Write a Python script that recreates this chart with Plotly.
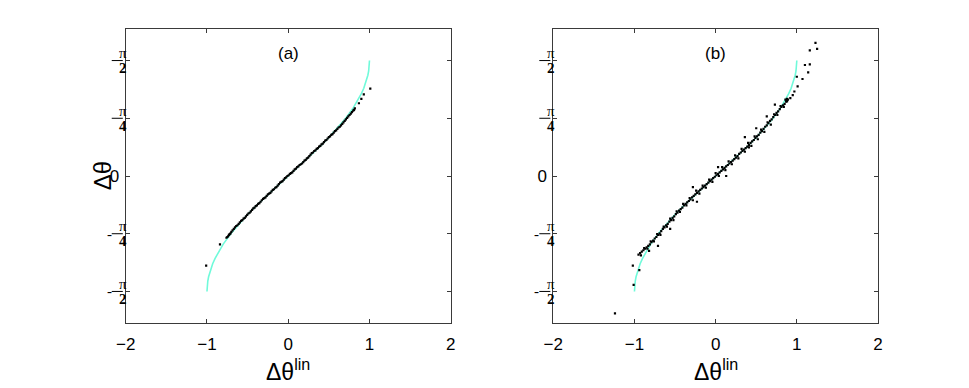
import math
import plotly.graph_objects as go

# theory curve (cyan)
curve_x = [-1.0, -0.999, -0.995, -0.99, -0.98, -0.96, -0.93, -0.9, -0.85, -0.8, -0.7, -0.6, -0.5,
           -0.4, -0.3, -0.2, -0.1, 0.0, 0.1, 0.2, 0.3, 0.4, 0.5, 0.6, 0.7, 0.8, 0.85, 0.9,
           0.93, 0.96, 0.98, 0.99, 0.995, 0.999, 1.0]
curve_y = [-1.571, -1.526, -1.471, -1.429, -1.371, -1.287, -1.194, -1.120, -1.016, -0.927, -0.775,
           -0.644, -0.524, -0.412, -0.305, -0.201, -0.100, 0.0, 0.100, 0.201, 0.305, 0.412, 0.524,
           0.644, 0.775, 0.927, 1.016, 1.120, 1.194, 1.287, 1.371, 1.429, 1.471, 1.526, 1.571]

# panel (a) simulation points
a_x = [-1.01, -0.84, -0.76, -0.75, -0.74, -0.73, -0.72, -0.71, -0.70, -0.685, -0.67, -0.655, -0.64,
       -0.625, -0.61, -0.595, -0.58, -0.565, -0.55, -0.535, -0.52, -0.505, -0.49, -0.475, -0.46,
       -0.445, -0.43, -0.415, -0.40, -0.385, -0.37, -0.355, -0.34, -0.325, -0.31, -0.295, -0.28,
       -0.265, -0.25, -0.235, -0.22, -0.205, -0.19, -0.175, -0.16, -0.145, -0.13, -0.115, -0.10,
       -0.085, -0.07, -0.055, -0.04, -0.025, -0.01, 0.005, 0.02, 0.035, 0.05, 0.065, 0.08, 0.095,
       0.11, 0.125, 0.14, 0.155, 0.17, 0.185, 0.20, 0.215, 0.23, 0.245, 0.26, 0.275, 0.29, 0.305,
       0.32, 0.335, 0.35, 0.365, 0.38, 0.395, 0.41, 0.425, 0.44, 0.455, 0.47, 0.485, 0.50, 0.515,
       0.53, 0.545, 0.56, 0.575, 0.59, 0.605, 0.62, 0.635, 0.65, 0.665, 0.68, 0.695, 0.71, 0.725,
       0.74, 0.755, 0.77, 0.785, 0.80, 0.81, 0.82, 0.87, 0.90, 0.93, 1.01]
a_y = [-1.22, -0.93, -0.84, -0.83, -0.82, -0.80, -0.79, -0.78, -0.76, -0.74, -0.72, -0.70, -0.68,
       -0.67, -0.65, -0.63, -0.61, -0.60, -0.58, -0.57, -0.55, -0.53, -0.51, -0.50, -0.48,
       -0.46, -0.44, -0.43, -0.41, -0.40, -0.38, -0.37, -0.35, -0.33, -0.31, -0.30, -0.29,
       -0.27, -0.25, -0.24, -0.23, -0.21, -0.19, -0.18, -0.16, -0.15, -0.13, -0.11, -0.09,
       -0.08, -0.07, -0.05, -0.03, -0.02, 0.00, 0.01, 0.03, 0.04, 0.05, 0.07, 0.09, 0.10,
       0.12, 0.13, 0.15, 0.16, 0.17, 0.19, 0.21, 0.22, 0.24, 0.25, 0.27, 0.29, 0.31, 0.32,
       0.34, 0.35, 0.37, 0.38, 0.40, 0.41, 0.43, 0.44, 0.46, 0.48, 0.49, 0.51, 0.53, 0.54,
       0.56, 0.57, 0.59, 0.61, 0.62, 0.64, 0.66, 0.67, 0.69, 0.71, 0.73, 0.75, 0.77, 0.79,
       0.81, 0.83, 0.85, 0.87, 0.89, 0.90, 0.92, 0.99, 1.05, 1.11, 1.19]

# panel (b) simulation points: main band, scattered band, outliers
b_x = [-0.95, -0.93, -0.91, -0.89, -0.87, -0.85, -0.83, -0.81, -0.79, -0.77, -0.75, -0.73, -0.71,
       -0.69, -0.67, -0.65, -0.63, -0.61, -0.59, -0.57, -0.55, -0.53, -0.51, -0.49, -0.47, -0.45,
       -0.43, -0.41, -0.39, -0.37, -0.35, -0.33, -0.31, -0.29, -0.27, -0.25, -0.23, -0.21, -0.19,
       -0.17, -0.15, -0.13, -0.11, -0.09, -0.07, -0.05, -0.03, -0.01, 0.01, 0.03, 0.05, 0.07, 0.09,
       0.11, 0.13, 0.15, 0.17, 0.19, 0.21, 0.23, 0.25, 0.27, 0.29, 0.31, 0.33, 0.35, 0.37, 0.39,
       0.41, 0.43, 0.45, 0.47, 0.49, 0.51, 0.53, 0.55, 0.57, 0.59, 0.61, 0.63, 0.65, 0.67, 0.69,
       0.71, 0.73, 0.75, 0.77, 0.79, 0.81, 0.83, 0.85, 0.87, 0.89,
       -0.92, -0.88, -0.84, -0.80, -0.76, -0.72, -0.68, -0.64, -0.60, -0.56, -0.52, -0.48, -0.44,
       -0.40, -0.36, -0.32, -0.28, -0.24, -0.20, -0.16, -0.12, -0.08, -0.04, 0.00, 0.04, 0.08,
       0.12, 0.16, 0.20, 0.24, 0.28, 0.32, 0.36, 0.40, 0.44, 0.48, 0.52, 0.56, 0.60, 0.64, 0.68,
       0.72, 0.76, 0.80, 0.84, 0.88, 0.86, 0.88, 0.87,
       -1.24, -1.02, -1.01, -0.94, -0.82, -0.71, -0.56, -0.23, -0.28, 0.03, 0.13, 0.36, 0.41,
       0.50, 0.63, 0.73, 0.97, 1.01, 1.00, 1.07, 1.14, 1.10, 1.16, 1.16, 1.25, 1.23, 0.92, 0.95]
b_y = [-1.07, -1.05, -1.03, -1.01, -0.99, -0.97, -0.95, -0.93, -0.90, -0.88, -0.85, -0.83, -0.80,
       -0.78, -0.75, -0.72, -0.70, -0.67, -0.65, -0.62, -0.60, -0.57, -0.55, -0.52, -0.50, -0.47,
       -0.45, -0.43, -0.40, -0.38, -0.36, -0.34, -0.32, -0.29, -0.27, -0.25, -0.23, -0.21, -0.19,
       -0.17, -0.15, -0.13, -0.11, -0.09, -0.07, -0.05, -0.03, -0.01, 0.01, 0.03, 0.05, 0.07, 0.09,
       0.11, 0.13, 0.15, 0.17, 0.19, 0.21, 0.23, 0.25, 0.27, 0.30, 0.32, 0.34, 0.36, 0.38, 0.40,
       0.42, 0.45, 0.47, 0.49, 0.52, 0.54, 0.56, 0.59, 0.61, 0.64, 0.67, 0.69, 0.72, 0.75, 0.77,
       0.80, 0.83, 0.86, 0.88, 0.91, 0.94, 0.96, 0.98, 1.01, 1.04,
       -1.08, -0.98, -0.99, -0.89, -0.89, -0.79, -0.80, -0.69, -0.69, -0.58, -0.60, -0.48, -0.49,
       -0.38, -0.40, -0.30, -0.33, -0.20, -0.24, -0.13, -0.16, -0.05, -0.08, 0.04, 0.00, 0.12,
       0.08, 0.20, 0.16, 0.28, 0.24, 0.37, 0.33, 0.45, 0.41, 0.54, 0.50, 0.63, 0.60, 0.73, 0.70,
       0.84, 0.83, 0.95, 0.94, 1.02, 1.04, 1.05, 1.02,
       -1.87, -1.22, -1.48, -1.28, -1.02, -0.95, -0.72, -0.35, -0.15, 0.12, 0.00, 0.53, 0.39,
       0.65, 0.81, 0.97, 1.15, 1.22, 1.35, 1.32, 1.41, 1.51, 1.52, 1.71, 1.73, 1.81, 1.06, 1.10]

panel_labels = ["(a)", "(b)"]
x_ticks = [-2, -1, 0, 1, 2]
x_ticktext = ["\u22122", "\u22121", "0", "1", "2"]
frac_ticks = [(-math.pi / 2, "2", True), (-math.pi / 4, "4", True),
              (math.pi / 4, "4", False), (math.pi / 2, "2", False)]

CYAN = "rgb(112,250,218)"
FRAME = "#3a3a3a"
SANS = "Liberation Sans, Arial, sans-serif"
SERIF = "Liberation Serif, DejaVu Serif, serif"

fig = go.Figure()
panels = [("x", "y", a_x, a_y), ("x2", "y2", b_x, b_y)]
for xa, ya, px_, py_ in panels:
    fig.add_trace(go.Scatter(x=curve_x, y=curve_y, mode="lines", xaxis=xa, yaxis=ya,
                             line=dict(color=CYAN, width=1.6), showlegend=False))
    fig.add_trace(go.Scatter(x=px_, y=py_, mode="markers", xaxis=xa, yaxis=ya,
                             marker=dict(color="black", size=2.2, symbol="square"),
                             showlegend=False))

axis_common = dict(showline=True, linecolor=FRAME, linewidth=1, mirror="ticks",
                   ticks="inside", ticklen=4, tickcolor=FRAME, showgrid=False,
                   zeroline=False, automargin=False,
                   tickfont=dict(family=SANS, size=17, color="black"))
y_minor = dict(tickvals=[v for v, _, _ in frac_ticks], ticks="inside", ticklen=4,
               tickcolor=FRAME, showgrid=False)

# page body adds an 8px offset, so the figure is 8px smaller than the window
fig.update_layout(
    width=961, height=380,
    margin=dict(l=0, r=0, t=21, b=65, pad=0),
    paper_bgcolor="white", plot_bgcolor="white",
    xaxis=dict(domain=[0.1225, 0.4607], range=[-2, 2], tickvals=x_ticks, ticktext=x_ticktext,
               ticklabelstandoff=6, anchor="y", **axis_common),
    yaxis=dict(range=[-2, 2], tickvals=[0], ticktext=["0"], minor=y_minor,
               ticklabelstandoff=2, anchor="x", **axis_common),
    xaxis2=dict(domain=[0.5674, 0.9053], range=[-2, 2], tickvals=x_ticks, ticktext=x_ticktext,
                ticklabelstandoff=6, anchor="y2", **axis_common),
    yaxis2=dict(range=[-2, 2], tickvals=[0], ticktext=["0"], minor=y_minor,
                ticklabelstandoff=2, anchor="x2", **axis_common),
)

for i, (xa, ya) in enumerate([("x", "y"), ("x2", "y2")]):
    xd = xa + " domain"
    # panel label
    fig.add_annotation(x=0.5, y=1.67, xref=xd, yref=ya, text=panel_labels[i], showarrow=False,
                       font=dict(family=SANS, size=17, color="black"))
    # x axis title
    fig.add_annotation(x=0.5, y=0, xref=xd, yref=ya + " domain", yanchor="top", yshift=-30,
                       text="\u0394\u03b8<sup>lin</sup>", showarrow=False,
                       font=dict(family=SANS, size=23, color="black"))
    # fraction tick labels: pi over 2 / pi over 4
    for val, den, neg in frac_ticks:
        fig.add_annotation(x=0, y=val, xref=xd, yref=ya, xshift=-8.5, yshift=7.5,
                           text="\u03c0", showarrow=False,
                           font=dict(family=SERIF, size=15, color="black"))
        fig.add_annotation(x=0, y=val, xref=xd, yref=ya, xshift=-8.5, yshift=-7.5,
                           text="<b>" + den + "</b>", showarrow=False,
                           font=dict(family=SERIF, size=15, color="black"))
        fig.add_shape(type="line", xref=xd, yref=ya, x0=-0.043, x1=-0.009, y0=val, y1=val,
                      line=dict(color="black", width=1))
        if neg:
            fig.add_annotation(x=0, y=val, xref=xd, yref=ya, xshift=-21, yshift=0,
                               text="-", showarrow=False,
                               font=dict(family=SERIF, size=15, color="black"))

# y axis title, left panel only
fig.add_annotation(x=0, y=0.5, xref="x domain", yref="y domain", xshift=-39,
                   text="\u0394\u03b8", textangle=-90, showarrow=False,
                   font=dict(family=SANS, size=24, color="black"))

fig.write_html("out.html")
